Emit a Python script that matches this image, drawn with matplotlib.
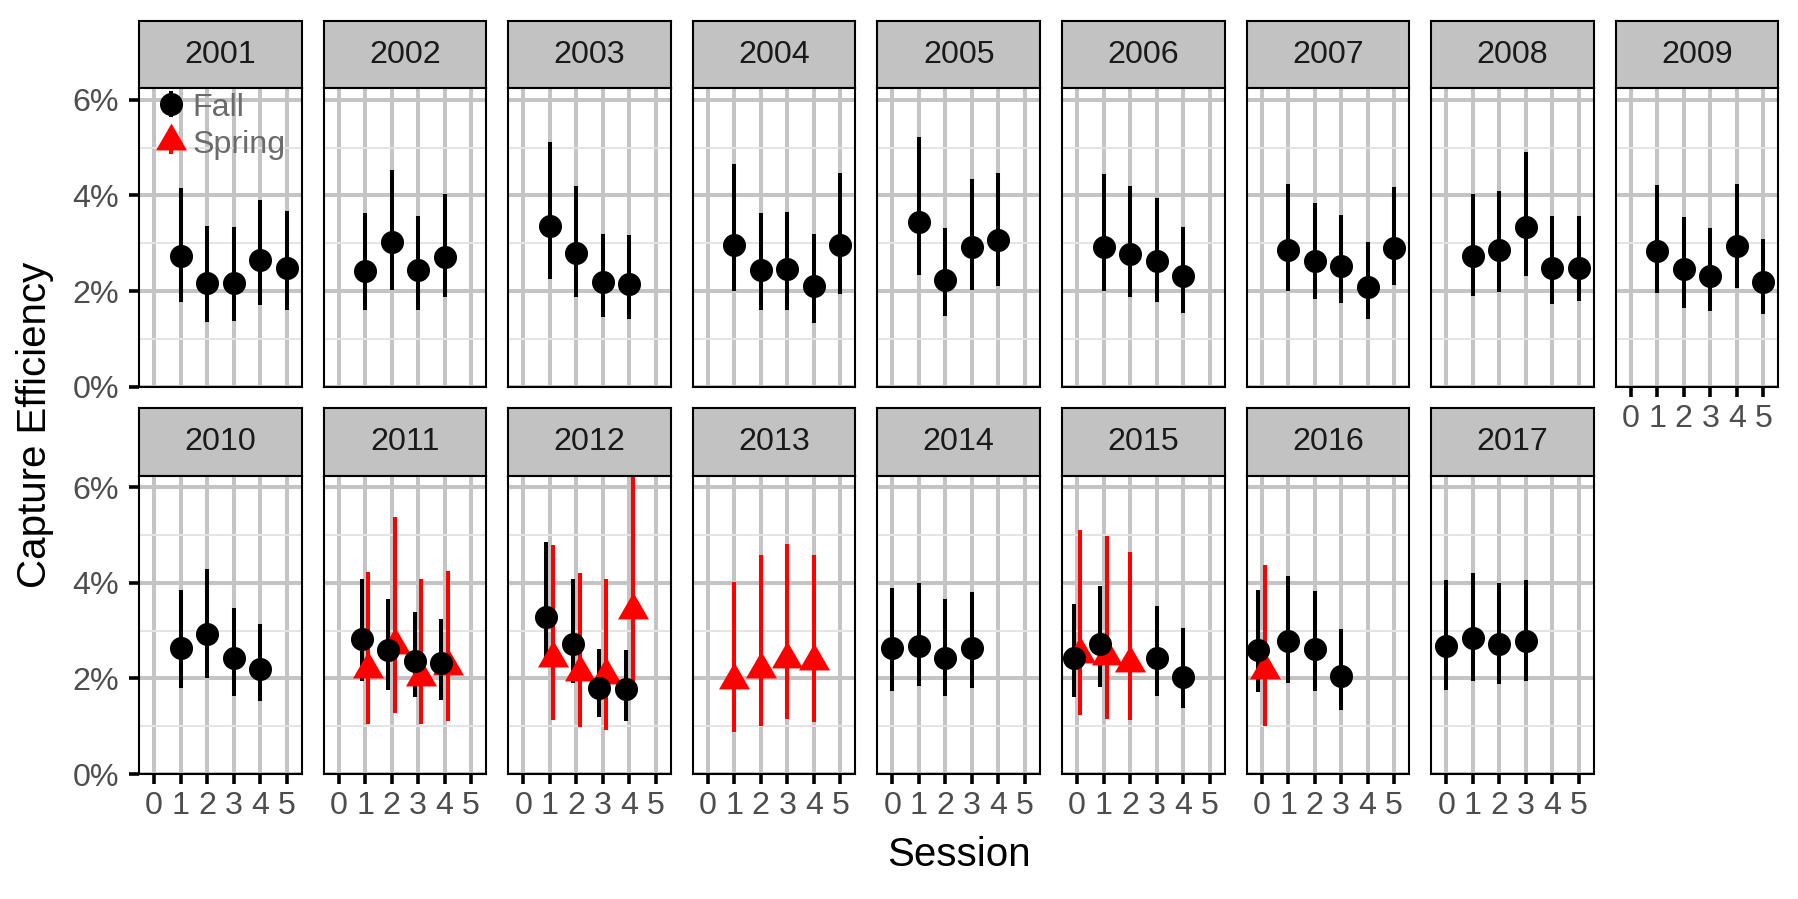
import matplotlib
matplotlib.use('Agg')
import matplotlib.pyplot as plt
from matplotlib.lines import Line2D
from matplotlib.legend_handler import HandlerTuple
from matplotlib.ticker import FuncFormatter

plt.rcParams['font.family'] = ['Liberation Sans', 'DejaVu Sans']

# ── Data (capture efficiency in %, with 95% CI) ──────────────────
YEARS = list(range(2001, 2018))

fall_year = [2001] * 5 + [2002] * 4 + [2003] * 4 + [2004] * 5 + [2005] * 4 + [2006] * 4 \
    + [2007] * 5 + [2008] * 5 + [2009] * 5 + [2010] * 4 + [2011] * 4 + [2012] * 4 \
    + [2014] * 4 + [2015] * 4 + [2016] * 4 + [2017] * 4
fall_session = [1, 2, 3, 4, 5, 1, 2, 3, 4, 1, 2, 3, 4, 1, 2, 3, 4, 5, 1, 2, 3, 4, 1, 2, 3, 4,
                1, 2, 3, 4, 5, 1, 2, 3, 4, 5, 1, 2, 3, 4, 5, 1, 2, 3, 4, 1, 2, 3, 4, 1, 2, 3, 4,
                0, 1, 2, 3, 0, 1, 3, 4, 0, 1, 2, 3, 0, 1, 2, 3]
fall_est = [2.74, 2.17, 2.16, 2.65, 2.49, 2.42, 3.02, 2.44, 2.72, 3.35, 2.79, 2.19, 2.14,
            2.97, 2.44, 2.47, 2.10, 2.96, 3.44, 2.24, 2.92, 3.06, 2.93, 2.77, 2.62, 2.31,
            2.86, 2.62, 2.52, 2.08, 2.90, 2.74, 2.86, 3.34, 2.49, 2.49, 2.84, 2.46, 2.31, 2.94, 2.18,
            2.64, 2.92, 2.43, 2.20, 2.83, 2.59, 2.37, 2.32, 3.28, 2.73, 1.79, 1.77,
            2.63, 2.68, 2.43, 2.64, 2.43, 2.72, 2.43, 2.04, 2.60, 2.79, 2.62, 2.06,
            2.68, 2.85, 2.71, 2.78]
fall_lo = [1.78, 1.36, 1.37, 1.71, 1.60, 1.60, 2.03, 1.61, 1.88, 2.26, 1.88, 1.45, 1.41,
           2.01, 1.61, 1.60, 1.33, 1.94, 2.33, 1.48, 2.02, 2.10, 2.00, 1.88, 1.78, 1.55,
           2.01, 1.83, 1.75, 1.42, 2.12, 1.90, 1.98, 2.32, 1.72, 1.79, 1.96, 1.64, 1.59, 2.06, 1.51,
           1.81, 2.00, 1.63, 1.53, 1.95, 1.76, 1.62, 1.54, 2.30, 1.91, 1.20, 1.11,
           1.74, 1.85, 1.63, 1.81, 1.62, 1.83, 1.64, 1.39, 1.71, 1.90, 1.74, 1.35,
           1.76, 1.95, 1.88, 1.95]
fall_hi = [4.16, 3.35, 3.34, 3.91, 3.68, 3.63, 4.53, 3.57, 4.03, 5.11, 4.19, 3.20, 3.17,
           4.65, 3.64, 3.65, 3.19, 4.46, 5.23, 3.32, 4.35, 4.46, 4.44, 4.20, 3.94, 3.33,
           4.24, 3.83, 3.59, 3.02, 4.18, 4.02, 4.10, 4.90, 3.57, 3.57, 4.21, 3.54, 3.32, 4.23, 3.09,
           3.85, 4.28, 3.47, 3.13, 4.07, 3.67, 3.38, 3.24, 4.85, 4.08, 2.61, 2.59,
           3.89, 4.00, 3.66, 3.80, 3.56, 3.94, 3.51, 3.05, 3.85, 4.14, 3.83, 3.04,
           4.06, 4.20, 4.00, 4.06]

spring_year = [2011] * 4 + [2012] * 4 + [2013] * 4 + [2015] * 3 + [2016]
spring_session = [1, 2, 3, 4, 1, 2, 3, 4, 1, 2, 3, 4, 0, 1, 2, 0]
spring_est = [2.20, 2.70, 2.04, 2.27, 2.42, 2.13, 2.08, 3.42, 1.97, 2.20, 2.41, 2.37,
              2.52, 2.47, 2.33, 2.17]
spring_lo = [1.04, 1.28, 1.04, 1.11, 1.14, 0.99, 0.93, 1.95, 0.89, 1.00, 1.15, 1.09,
             1.23, 1.15, 1.13, 1.00]
spring_hi = [4.22, 5.38, 4.08, 4.25, 4.78, 4.20, 4.08, 6.60, 4.02, 4.59, 4.80, 4.59,
             5.10, 4.97, 4.65, 4.38]

SESSIONS = [0, 1, 2, 3, 4, 5]
Y_TICKS = [0, 2, 4, 6]

# ── Styles ───────────────────────────────────────────────────────
FALL_COLOR = 'black'
SPRING_COLOR = 'red'
GRID_MAJOR = '#C4C4C4'
GRID_MINOR = '#E4E4E4'
STRIP_FILL = '#C2C2C2'
TICK_TEXT = '#4D4D4D'
SMALL_FS = 11.6
TITLE_FS = 14.5
DODGE = 0.125
TRIANGLE = [(0, 1), (-0.866, -0.5), (0.866, -0.5)]  # centroid at origin, like R pch 17

# ── Layout in pixels ─────────────────────────────────────────────
W, H = 1799, 899
DPI = 200
PANEL_L0, PANEL_DX, PANEL_W = 139, 184.6, 162.6
ROW_TOP = [88.2, 475.6]
PANEL_H = 298.5
STRIP_H = 67.3
NCOL = 9

fig = plt.figure(figsize=(W / DPI, H / DPI), dpi=DPI, facecolor='white')


def px_axes(left, top, width, height):
    return fig.add_axes([left / W, 1 - (top + height) / H, width / W, height / H])


both = set(zip(fall_year, fall_session)) & set(zip(spring_year, spring_session))


def dodge(years, sessions, sign):
    return [s + sign * DODGE if (y, s) in both else s for y, s in zip(years, sessions)]


fall_x = dodge(fall_year, fall_session, -1)
spring_x = dodge(spring_year, spring_session, +1)

n_panels = len(YEARS)
legend_ax = None
for i, year in enumerate(YEARS):
    row, col = divmod(i, NCOL)
    left = PANEL_L0 + col * PANEL_DX
    top = ROW_TOP[row]
    sax = px_axes(left, top - STRIP_H, PANEL_W, STRIP_H)
    ax = px_axes(left, top, PANEL_W, PANEL_H)

    # strip
    sax.set_facecolor(STRIP_FILL)
    sax.set_xticks([])
    sax.set_yticks([])
    for sp in sax.spines.values():
        sp.set_color('black')
        sp.set_linewidth(0.75)
    sax.text(0.5, 0.5, str(year), transform=sax.transAxes, ha='center', va='center',
             fontsize=SMALL_FS, color='#1A1A1A')

    # panel
    ax.set_xlim(-0.57, 5.57)
    ax.set_ylim(0, 6.24)
    ax.set_xticks(SESSIONS)
    ax.set_yticks(Y_TICKS)
    ax.set_yticks([1, 3, 5], minor=True)
    ax.set_axisbelow(True)
    ax.grid(which='major', color=GRID_MAJOR, linewidth=1.45)
    ax.grid(which='minor', axis='y', color=GRID_MINOR, linewidth=0.7)
    for sp in ax.spines.values():
        sp.set_color('black')
        sp.set_linewidth(0.75)
    ax.yaxis.set_major_formatter(FuncFormatter(lambda v, p: f'{v:.0f}%'))
    ax.tick_params(which='major', direction='out', length=3.6, width=1.3, color='black',
                   labelsize=SMALL_FS, labelcolor=TICK_TEXT)
    ax.tick_params(axis='x', pad=2.5)
    ax.tick_params(axis='y', pad=3.5)
    ax.tick_params(which='minor', length=0)

    show_x = (row == 1) or (i + NCOL >= n_panels)
    if not show_x:
        ax.tick_params(axis='x', length=0, labelbottom=False)
    if col != 0:
        ax.tick_params(axis='y', length=0, labelleft=False)

    # fall
    fx = [x for x, y in zip(fall_x, fall_year) if y == year]
    fe = [e for e, y in zip(fall_est, fall_year) if y == year]
    flo = [v for v, y in zip(fall_lo, fall_year) if y == year]
    fhi = [v for v, y in zip(fall_hi, fall_year) if y == year]
    # spring
    sx = [x for x, y in zip(spring_x, spring_year) if y == year]
    se = [e for e, y in zip(spring_est, spring_year) if y == year]
    slo = [v for v, y in zip(spring_lo, spring_year) if y == year]
    shi = [v for v, y in zip(spring_hi, spring_year) if y == year]

    if fx:
        ax.vlines(fx, flo, fhi, color=FALL_COLOR, linewidth=1.45, zorder=2)
    if sx:
        ax.vlines(sx, slo, shi, color=SPRING_COLOR, linewidth=1.45, zorder=2)
    if sx:
        ax.plot(sx, se, linestyle='none', marker=TRIANGLE, markersize=12.9,
                color=SPRING_COLOR, markeredgewidth=0, zorder=3)
    if fx:
        ax.plot(fx, fe, linestyle='none', marker='o', markersize=8.3,
                color=FALL_COLOR, markeredgewidth=0, zorder=4)

    if i == 0:
        legend_ax = ax

# ── Legend inside first panel ────────────────────────────────────
fall_h = (Line2D([], [], linestyle='none', marker='|', markersize=9.5, markeredgewidth=1.45,
                 color=FALL_COLOR),
          Line2D([], [], linestyle='none', marker='o', markersize=8.3, markeredgewidth=0,
                 color=FALL_COLOR))
spring_h = (Line2D([], [], linestyle='none', marker='|', markersize=9.5, markeredgewidth=1.45,
                   color=SPRING_COLOR),
            Line2D([], [], linestyle='none', marker=TRIANGLE, markersize=12.9, markeredgewidth=0,
                   color=SPRING_COLOR))
leg = legend_ax.legend([fall_h, spring_h], ['Fall', 'Spring'],
                       handler_map={tuple: HandlerTuple(ndivide=1, pad=0)},
                       loc='upper left', bbox_to_anchor=(0.10, 0.985), borderpad=0,
                       borderaxespad=0, frameon=False, fontsize=SMALL_FS, handlelength=1.0,
                       handletextpad=0.15, labelspacing=0.22, labelcolor='#6B6B6B')
leg.set_zorder(5)

# ── Axis titles ──────────────────────────────────────────────────
fig.text(958.5 / W, 1 - 855 / H, 'Session', ha='center', va='center', fontsize=TITLE_FS)
fig.text(35 / W, 1 - 425 / H, 'Capture Efficiency', ha='center', va='center',
         rotation=90, fontsize=TITLE_FS)

fig.savefig('out.png', dpi=DPI, facecolor='white')
